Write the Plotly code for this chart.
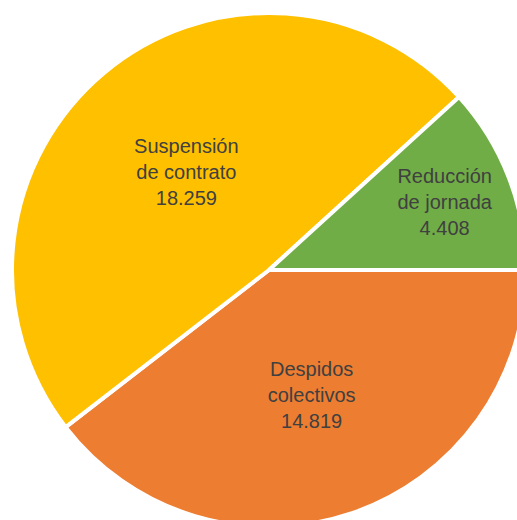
import plotly.graph_objects as go

categories = ["Despidos<br>colectivos", "Suspensión<br>de contrato", "Reducción<br>de jornada"]
values = [14819, 18259, 4408]
colors = ["#ED7D31", "#FFC000", "#70AD47"]

W, H = 540, 540
cx, cy, r = 269, 270, 257

fig = go.Figure(go.Pie(
    labels=categories,
    values=values,
    sort=False,
    direction="clockwise",
    rotation=90,
    marker=dict(colors=colors, line=dict(color="white", width=4)),
    texttemplate="%{label}<br>%{value:,d}",
    textposition="inside",
    insidetextorientation="horizontal",
    textfont=dict(family="Liberation Sans, Arial, sans-serif", size=20, color="#404040"),
    hoverinfo="none",
    domain=dict(x=[(cx - r) / W, (cx + r) / W], y=[(H - cy - r) / H, (H - cy + r) / H]),
    showlegend=False,
))

fig.update_layout(
    width=W, height=H,
    margin=dict(l=0, r=0, t=0, b=0),
    paper_bgcolor="white",
    plot_bgcolor="white",
    separators=",.",
    uniformtext=dict(minsize=20, mode="show"),
)

fig.write_html("out.html", config={"displayModeBar": False},
               post_script="document.body.style.margin='0';document.body.style.overflow='hidden';")
